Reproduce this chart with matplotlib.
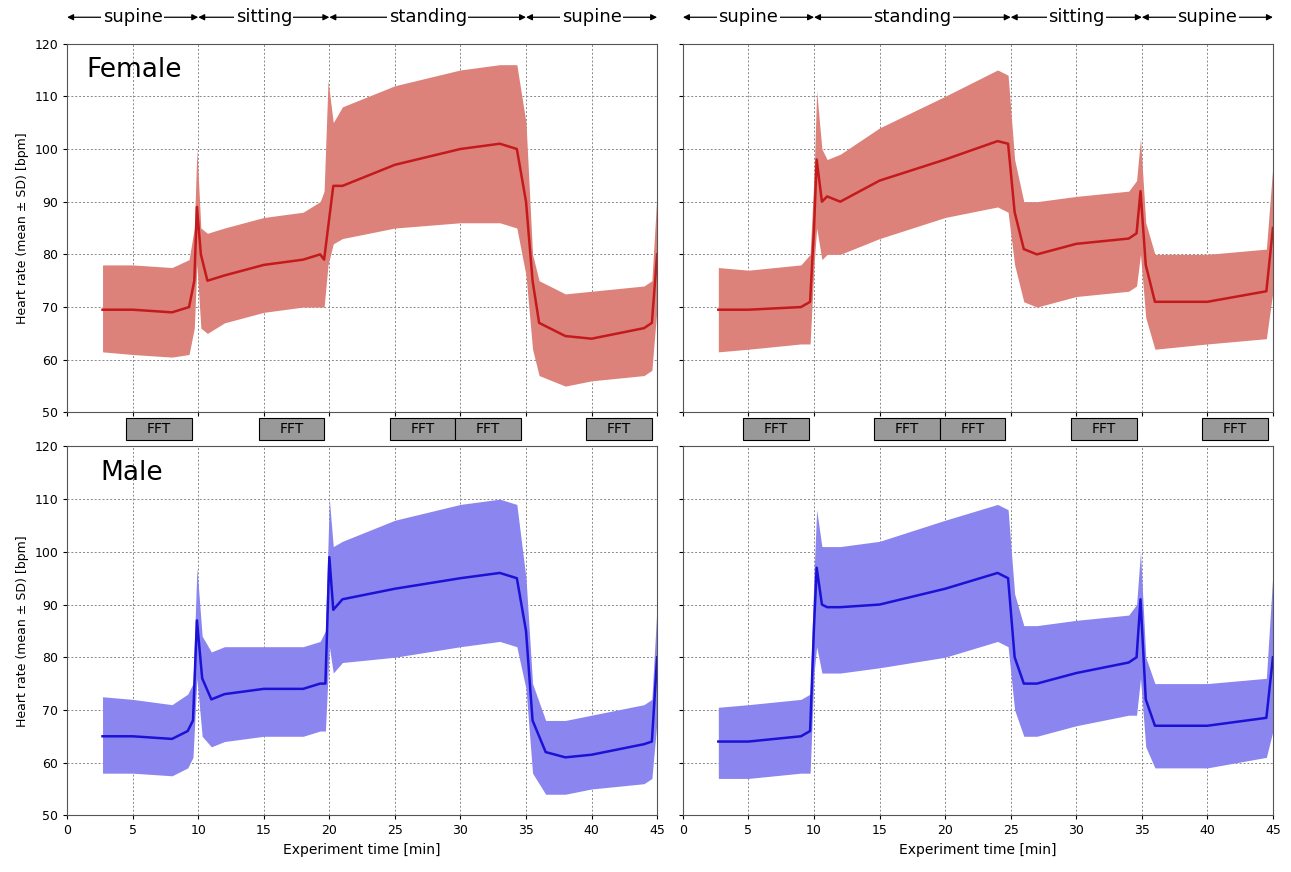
import numpy as np
import matplotlib
matplotlib.use("Agg")
import matplotlib.pyplot as plt

# ---- data (time [min], mean, mean+SD, mean-SD) ----
f_left_t = [2.7, 5, 8, 9.3, 9.7, 9.9, 10.2, 10.7, 12, 15, 18, 19.3, 19.6, 19.9, 20.3, 21, 25, 30, 33, 34.3, 35, 35.5, 36, 38, 40, 44, 44.6, 45]
f_left_m = [69.5, 69.5, 69, 70, 75, 89, 80, 75, 76, 78, 79, 80, 79, 85, 93, 93, 97, 100, 101, 100, 90, 75, 67, 64.5, 64, 66, 67, 80]
f_left_u = [78, 78, 77.5, 79, 85, 100, 85, 84, 85, 87, 88, 90, 92, 113, 105, 108, 112, 115, 116, 116, 105, 80, 75, 72.5, 73, 74, 75, 92]
f_left_l = [61.5, 61, 60.5, 61, 66, 78, 66, 65, 67, 69, 70, 70, 70, 78, 82, 83, 85, 86, 86, 85, 76, 62, 57, 55, 56, 57, 58, 70]

f_right_t = [2.7, 5, 9, 9.7, 10, 10.2, 10.6, 11, 12, 15, 20, 24, 24.8, 25.3, 26, 27, 30, 34, 34.6, 34.9, 35.3, 36, 40, 44.5, 45]
f_right_m = [69.5, 69.5, 70, 71, 85, 98, 90, 91, 90, 94, 98, 101.5, 101, 88, 81, 80, 82, 83, 84, 92, 78, 71, 71, 73, 85]
f_right_u = [77.5, 77, 78, 80, 95, 111, 100, 98, 99, 104, 110, 115, 114, 98, 90, 90, 91, 92, 94, 102, 86, 80, 80, 81, 97]
f_right_l = [61.5, 62, 63, 63, 78, 85, 79, 80, 80, 83, 87, 89, 88, 78, 71, 70, 72, 73, 74, 80, 68, 62, 63, 64, 73]

m_left_t = [2.7, 5, 8, 9.2, 9.6, 9.9, 10.3, 11, 12, 15, 18, 19.3, 19.7, 20, 20.3, 21, 25, 30, 33, 34.3, 35, 35.5, 36.5, 38, 40, 44, 44.6, 45]
m_left_m = [65, 65, 64.5, 66, 68, 87, 76, 72, 73, 74, 74, 75, 75, 99, 89, 91, 93, 95, 96, 95, 85, 68, 62, 61, 61.5, 63.5, 64, 80]
m_left_u = [72.5, 72, 71, 73, 75, 97, 84, 81, 82, 82, 82, 83, 85, 110, 101, 102, 106, 109, 110, 109, 95, 75, 68, 68, 69, 71, 72, 90]
m_left_l = [58, 58, 57.5, 59, 61, 76, 65, 63, 64, 65, 65, 66, 66, 82, 77, 79, 80, 82, 83, 82, 74, 58, 54, 54, 55, 56, 57, 68]

m_right_t = [2.7, 5, 9, 9.7, 10, 10.2, 10.6, 11, 12, 15, 20, 24, 24.8, 25.3, 26, 27, 30, 34, 34.6, 34.9, 35.3, 36, 40, 44.5, 45]
m_right_m = [64, 64, 65, 66, 86, 97, 90, 89.5, 89.5, 90, 93, 96, 95, 80, 75, 75, 77, 79, 80, 91, 72, 67, 67, 68.5, 80]
m_right_u = [70.5, 71, 72, 73, 96, 108, 101, 101, 101, 102, 106, 109, 108, 92, 86, 86, 87, 88, 90, 100, 80, 75, 75, 76, 96]
m_right_l = [57, 57, 58, 58, 77, 82, 77, 77, 77, 78, 80, 83, 82, 70, 65, 65, 67, 69, 69, 76, 63, 59, 59, 61, 66]

left_phases = [(0, 10, "supine"), (10, 20, "sitting"), (20, 35, "standing"), (35, 45, "supine")]
right_phases = [(0, 10, "supine"), (10, 25, "standing"), (25, 35, "sitting"), (35, 45, "supine")]
left_fft = [(4.5, 9.5), (14.6, 19.6), (24.6, 29.6), (29.6, 34.6), (39.6, 44.6)]
right_fft = [(4.6, 9.6), (14.6, 19.6), (19.6, 24.6), (29.6, 34.6), (39.6, 44.6)]

RED_LINE, RED_FILL = "#c41a1c", "#dc827b"
BLUE_LINE, BLUE_FILL = "#1c12d6", "#8b85f0"

fig = plt.figure(figsize=(12.91, 8.72), dpi=100)
W, H = 0.457, 0.423
axes = {
    "fl": fig.add_axes([0.052, 0.527, W, H]),
    "fr": fig.add_axes([0.529, 0.527, W, H]),
    "ml": fig.add_axes([0.052, 0.065, W, H]),
    "mr": fig.add_axes([0.529, 0.065, W, H]),
}


def draw(ax, t, m, u, l, line_c, fill_c):
    ax.fill_between(t, l, u, color=fill_c, lw=0)
    ax.plot(t, m, color=line_c, lw=1.8)
    ax.set_xlim(0, 45)
    ax.set_ylim(50, 120)
    ax.set_xticks(np.arange(0, 46, 5))
    ax.set_yticks(np.arange(50, 121, 10))
    ax.grid(True, color="#888888", ls=(0, (2, 2)), lw=0.7)
    ax.set_axisbelow(True)
    ax.tick_params(labelsize=9, direction="out", length=3)
    for s in ax.spines.values():
        s.set_color("#555555")


draw(axes["fl"], f_left_t, f_left_m, f_left_u, f_left_l, RED_LINE, RED_FILL)
draw(axes["fr"], f_right_t, f_right_m, f_right_u, f_right_l, RED_LINE, RED_FILL)
draw(axes["ml"], m_left_t, m_left_m, m_left_u, m_left_l, BLUE_LINE, BLUE_FILL)
draw(axes["mr"], m_right_t, m_right_m, m_right_u, m_right_l, BLUE_LINE, BLUE_FILL)

for k in ("fl", "fr"):
    axes[k].tick_params(labelbottom=False)
for k in ("fr", "mr"):
    axes[k].tick_params(labelleft=False)
for k in ("fl", "ml"):
    axes[k].set_ylabel("Heart rate (mean ± SD) [bpm]", fontsize=9)
for k in ("ml", "mr"):
    axes[k].set_xlabel("Experiment time [min]", fontsize=10)

axes["fl"].text(1.5, 115, "Female", fontsize=19, va="center")
axes["ml"].text(2.5, 115, "Male", fontsize=19, va="center")

# posture arrows above the top panels
for ax, phases in ((axes["fl"], left_phases), (axes["fr"], right_phases)):
    for a, b, name in phases:
        ax.annotate("", xy=(a, 125), xytext=(b, 125), xycoords="data",
                    annotation_clip=False,
                    arrowprops=dict(arrowstyle="<|-|>", color="black", lw=0.9,
                                    shrinkA=0, shrinkB=0, mutation_scale=9))
        ax.text((a + b) / 2, 125, name, ha="center", va="center", fontsize=13,
                clip_on=False, bbox=dict(fc="white", ec="none", pad=1))

# FFT windows between the rows
for ax, wins in ((axes["fl"], left_fft), (axes["fr"], right_fft)):
    for a, b in wins:
        ax.add_patch(plt.Rectangle((a, 44.7), b - a, 4.2, fc="#999999", ec="black",
                                   lw=0.8, clip_on=False))
        ax.text((a + b) / 2, 46.8, "FFT", ha="center", va="center", fontsize=10,
                clip_on=False)

fig.savefig("out.png", dpi=100)
